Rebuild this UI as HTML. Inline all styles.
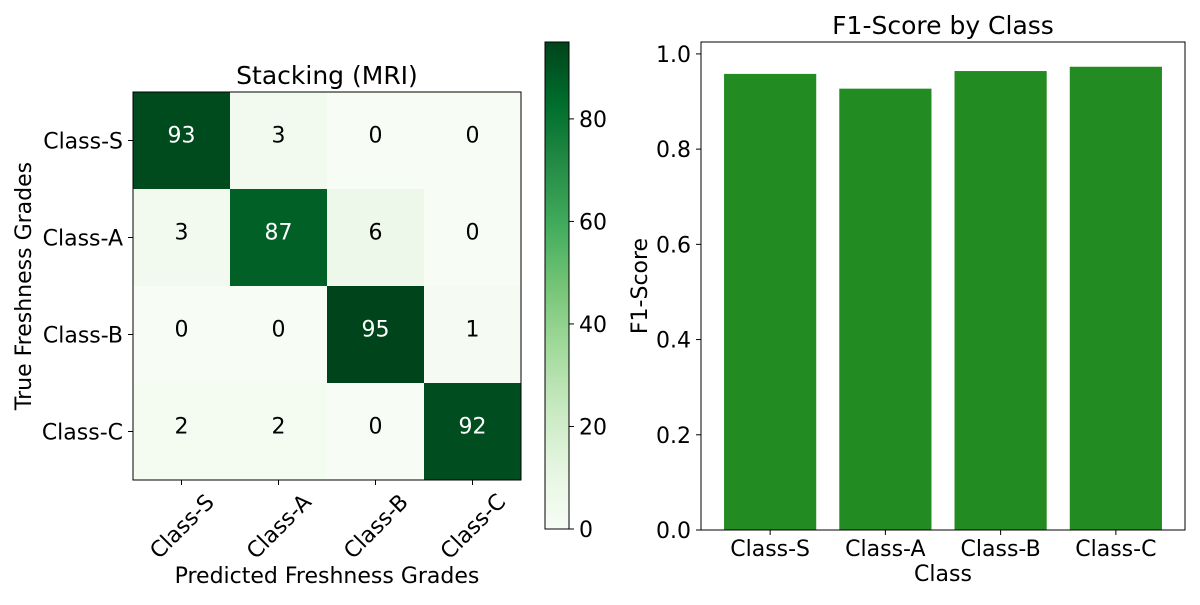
<!DOCTYPE html>
<html><head><meta charset="utf-8"><style>
body{margin:0;background:#fff}
text{font-family:"DejaVu Sans","Liberation Sans",sans-serif;fill:#000}
</style></head><body>
<svg id="c" width="1200" height="600" xmlns="http://www.w3.org/2000/svg">
<defs><linearGradient id="cg" x1="0" y1="1" x2="0" y2="0">
<stop offset="0" stop-color="#f7fcf5"/><stop offset="0.125" stop-color="#e5f5e0"/><stop offset="0.25" stop-color="#c7e9c0"/><stop offset="0.375" stop-color="#a1d99b"/><stop offset="0.5" stop-color="#74c476"/><stop offset="0.625" stop-color="#41ab5d"/><stop offset="0.75" stop-color="#238b45"/><stop offset="0.875" stop-color="#006d2c"/><stop offset="1" stop-color="#00441b"/>
</linearGradient></defs>
</svg>
<script>
const classes=["Class-S","Class-A","Class-B","Class-C"];
const matrix=[[93,3,0,0],[3,87,6,0],[0,0,95,1],[2,2,0,92]];
const cbTicks=[0,20,40,60,80];
const f1Scores=[0.958,0.927,0.964,0.973];
const f1Ticks=[0.0,0.2,0.4,0.6,0.8,1.0];

const svg=document.getElementById('c');
const NS="http://www.w3.org/2000/svg";
const FS=22, TS=25;
function mk(t,a,p){const e=document.createElementNS(NS,t);for(const k in a)e.setAttribute(k,a[k]);(p||svg).appendChild(e);return e;}
const stops=["#f7fcf5","#e5f5e0","#c7e9c0","#a1d99b","#74c476","#41ab5d","#238b45","#006d2c","#00441b"];
function hex(h){return[1,3,5].map(i=>parseInt(h.substr(i,2),16));}
const vmax=Math.max(...matrix.flat());
function cmap(v){let t=Math.max(0,Math.min(1,v/vmax))*(stops.length-1);let i=Math.min(Math.floor(t),stops.length-2),f=t-i;const a=hex(stops[i]),b=hex(stops[i+1]);return`rgb(${a.map((x,k)=>Math.round(x+(b[k]-x)*f)).join(',')})`;}

// heatmap
const hx0=133,hy0=92,cs=97;
const n=classes.length;
matrix.forEach((row,r)=>row.forEach((v,c)=>{
 let e=mk('rect',{x:hx0+c*cs,y:hy0+r*cs,width:cs+0.5,height:cs+0.5,fill:cmap(v)});
 
 
 let t=mk('text',{x:hx0+c*cs+cs/2,y:hy0+r*cs+cs/2+2,'text-anchor':'middle','font-size':FS,style:'fill:'+(v>vmax/2?'#fff':'#000')});
 t.textContent=v;
 
 
}));
let hb=mk('rect',{x:hx0,y:hy0,width:cs*n,height:cs*n,fill:'none',stroke:'#000','stroke-width':1});


classes.forEach((cl,i)=>{
 const cx=hx0+i*cs+cs/2;
 mk('line',{x1:cx,y1:hy0+cs*n,x2:cx,y2:hy0+cs*n+5,stroke:'#000'});
 let t=mk('text',{x:cx,y:534,'text-anchor':'middle','font-size':FS,transform:`rotate(-45 ${cx} 526)`});
 t.textContent=cl;
 
 
 const cy=hy0+i*cs+cs/2;
 mk('line',{x1:hx0,y1:cy,x2:hx0-5,y2:cy,stroke:'#000'});
 let u=mk('text',{x:hx0-10,y:cy+8,'text-anchor':'end','font-size':FS});
 u.textContent=cl;
 
 
});
let t1=mk('text',{x:hx0+cs*n/2,y:84,'text-anchor':'middle','font-size':TS});t1.textContent='Stacking (MRI)';

let t2=mk('text',{x:hx0+cs*n/2,y:583,'text-anchor':'middle','font-size':FS});t2.textContent='Predicted Freshness Grades';

let t3=mk('text',{x:0,y:0,'text-anchor':'middle','font-size':FS,transform:'translate(31 286) rotate(-90)'});t3.textContent='True Freshness Grades';


// colorbar
const cbx=545,cbw=24,cbTop=42,cbBot=529;
let cb=mk('rect',{x:cbx,y:cbTop,width:cbw,height:cbBot-cbTop,fill:'url(#cg)',stroke:'#000'});

cbTicks.forEach(v=>{const y=cbBot-(cbBot-cbTop)*v/vmax;
 mk('line',{x1:cbx+cbw,y1:y,x2:cbx+cbw+5,y2:y,stroke:'#000'});
 let t=mk('text',{x:cbx+cbw+10,y:y+8,'font-size':FS});t.textContent=v;
 
});

// bar chart
const bx0=701,bx1=1185,by0=530,by1=42,ymax=1.025;
const xs=i=>bx0+(i+0.6)/4.2*(bx1-bx0);
const ys=v=>by0-(by0-by1)*v/ymax;
const bw=0.8/4.2*(bx1-bx0);
f1Scores.forEach((v,i)=>{
 let r=mk('rect',{x:xs(i)-bw/2,y:ys(v),width:bw,height:by0-ys(v),fill:'#228b22'});
 
 
 mk('line',{x1:xs(i),y1:by0,x2:xs(i),y2:by0+5,stroke:'#000'});
 let t=mk('text',{x:xs(i),y:556,'text-anchor':'middle','font-size':FS});t.textContent=classes[i];
 
});
f1Ticks.forEach(v=>{const y=ys(v);
 mk('line',{x1:bx0,y1:y,x2:bx0-5,y2:y,stroke:'#000'});
 let t=mk('text',{x:bx0-10,y:y+8,'text-anchor':'end','font-size':FS});t.textContent=v.toFixed(1);
 
});
let bf=mk('rect',{x:bx0,y:by1,width:bx1-bx0,height:by0-by1,fill:'none',stroke:'#000'});

let b1=mk('text',{x:(bx0+bx1)/2,y:34,'text-anchor':'middle','font-size':TS});b1.textContent='F1-Score by Class';

let b2=mk('text',{x:(bx0+bx1)/2,y:581,'text-anchor':'middle','font-size':FS});b2.textContent='Class';

let b3=mk('text',{x:0,y:0,'text-anchor':'middle','font-size':FS,transform:'translate(647 286) rotate(-90)'});b3.textContent='F1-Score';

</script>
</body></html>
